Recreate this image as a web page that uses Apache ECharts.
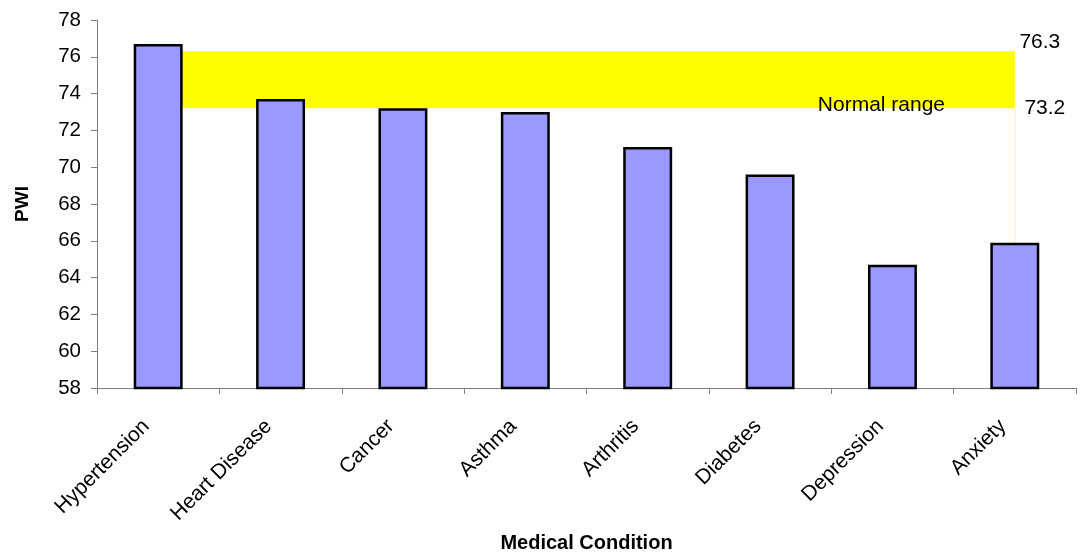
<!DOCTYPE html>
<html>
<head>
<meta charset="utf-8">
<style>
  html, body { margin: 0; padding: 0; background: #fff; overflow: hidden; }
  #chart { width: 1080px; height: 556px; }
</style>
<script src="https://cdn.jsdelivr.net/npm/echarts@6/dist/echarts.min.js"></script>
</head>
<body>
<div id="chart"></div>
<script>
// PWI by medical condition
const categories = ['Hypertension', 'Heart Disease', 'Cancer', 'Asthma', 'Arthritis', 'Diabetes', 'Depression', 'Anxiety'];
const pwiValues = [76.7, 73.7, 73.2, 73.0, 71.1, 69.6, 64.7, 65.9];
const yTicks = [58, 60, 62, 64, 66, 68, 70, 72, 74, 76, 78];

// Normal range band
const normalLow = 73.2;
const normalHigh = 76.3;
const normalLabel = 'Normal range';

const FONT = 'Liberation Sans, Arial, sans-serif';

const chart = echarts.init(document.getElementById('chart'), null, { renderer: 'canvas' });

const lastCat = categories[categories.length - 1];
const bandBase = categories.map(() => normalLow);
const bandWidth = categories.map(() => +(normalHigh - normalLow).toFixed(1));

const textMark = (coord, text, offset) => ({
  coord: coord,
  symbol: 'rect',
  symbolSize: 1,
  itemStyle: { color: 'rgba(0,0,0,0)' },
  label: { show: true, formatter: text, position: 'inside', offset: offset }
});

chart.setOption({
  animation: false,
  backgroundColor: '#ffffff',
  grid: { left: 97, right: 4, top: 20, bottom: 168, containLabel: false, outerBoundsMode: 'none' },
  xAxis: {
    type: 'category',
    data: categories,
    boundaryGap: true,
    name: 'Medical Condition',
    nameLocation: 'middle',
    nameGap: 145,
    nameMoveOverlap: false,
    nameTextStyle: { fontFamily: FONT, fontSize: 20, fontWeight: 'bold', color: '#000' },
    axisLine: { lineStyle: { color: '#808080', width: 1 } },
    axisTick: { show: true, length: 6, lineStyle: { color: '#808080' } },
    axisLabel: {
      rotate: 45, margin: 23, padding: [0, 17, 0, 0],
      fontFamily: FONT, fontSize: 21, color: '#000', interval: 0, hideOverlap: false
    },
    splitLine: { show: false }
  },
  yAxis: {
    type: 'value',
    min: yTicks[0],
    max: yTicks[yTicks.length - 1],
    interval: yTicks[1] - yTicks[0],
    name: 'PWI',
    nameLocation: 'middle',
    nameGap: 65,
    nameRotate: 90,
    nameMoveOverlap: false,
    nameTextStyle: { fontFamily: FONT, fontSize: 19, fontWeight: 'bold', color: '#000' },
    axisLine: { show: true, lineStyle: { color: '#808080', width: 1 } },
    axisTick: { show: true, length: 6, lineStyle: { color: '#808080' } },
    axisLabel: { margin: 16, fontFamily: FONT, fontSize: 20.5, color: '#000' },
    splitLine: { show: false }
  },
  series: [
    {
      name: 'base',
      type: 'line',
      stack: 'band',
      data: bandBase,
      symbol: 'none',
      lineStyle: { opacity: 0 },
      z: 1,
      silent: true,
      markLine: {
        silent: true,
        symbol: 'none',
        label: { show: false },
        lineStyle: { color: '#ffff99', width: 1, type: 'solid' },
        data: [[{ coord: [lastCat, yTicks[0]] }, { coord: [lastCat, normalLow] }]]
      },
      markPoint: {
        silent: true,
        label: { fontFamily: FONT, fontSize: 21, color: '#000' },
        data: [
          textMark([lastCat, normalHigh], String(normalHigh), [25, -9]),
          textMark([lastCat, normalLow], String(normalLow), [30, 0]),
          textMark([categories[6], normalLow], normalLabel, [-11, -3])
        ]
      }
    },
    {
      name: 'normal',
      type: 'line',
      stack: 'band',
      data: bandWidth,
      symbol: 'none',
      lineStyle: { opacity: 0 },
      areaStyle: { color: '#ffff00', opacity: 1 },
      z: 1,
      silent: true
    },
    {
      name: 'PWI',
      type: 'bar',
      data: pwiValues,
      barWidth: '40%',
      z: 5,
      itemStyle: { color: '#9999ff', borderColor: '#000000', borderWidth: 2.5 }
    }
  ]
});
</script>
</body>
</html>
